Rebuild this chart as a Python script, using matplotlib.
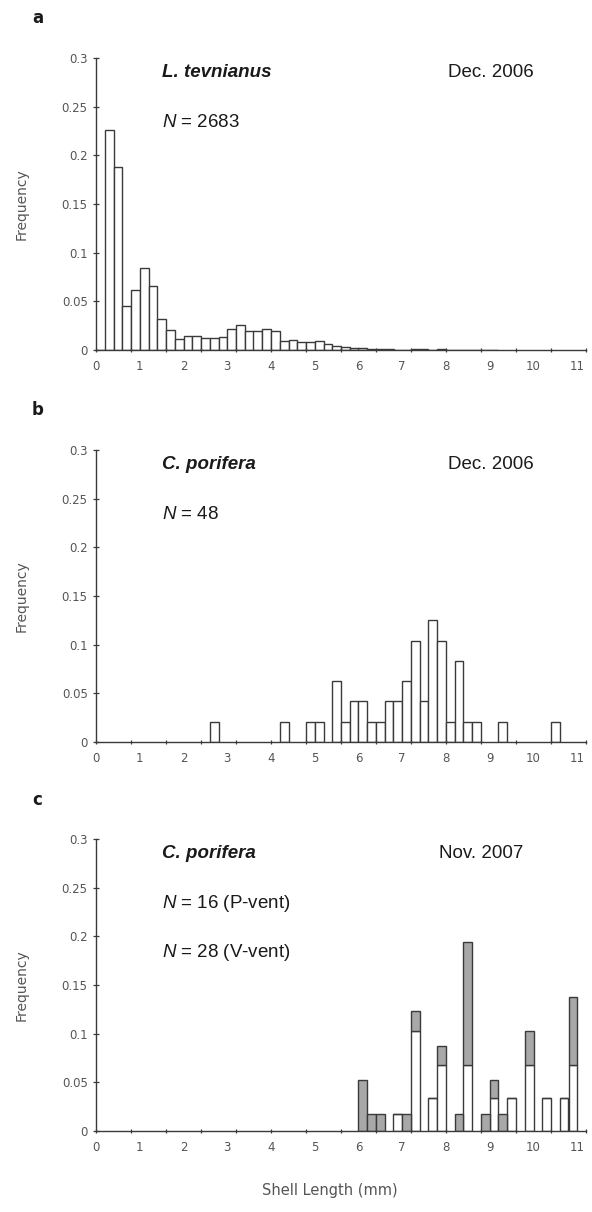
import numpy as np
import matplotlib
matplotlib.use("Agg")
import matplotlib.pyplot as plt

# --- style config ---
W, H = 592, 1212
EDGE = "#3a3a3a"
GRAY_FILL = "#a8a8a8"
TICK_COLOR = "#555555"
TEXT_COLOR = "#1a1a1a"
BIN = 0.2

# =========================
# DATA (frequency per 0.2 mm shell-length bin)
# =========================
# panel a: L. tevnianus, bins starting at 0.0, 0.2, 0.4, ...
a_freq = [0.0, 0.226, 0.188, 0.045, 0.062, 0.084, 0.066, 0.032, 0.021, 0.011,
          0.014, 0.014, 0.012, 0.012, 0.013, 0.022, 0.026, 0.020, 0.020, 0.022,
          0.020, 0.009, 0.010, 0.008, 0.008, 0.009, 0.006, 0.004, 0.003, 0.002,
          0.002, 0.001, 0.001, 0.001, 0.0005, 0.0005, 0.001, 0.001, 0.0005, 0.001,
          0.0005, 0.0005, 0.0005, 0.0, 0.0005, 0.0]
a_n = 2683

# panel b: C. porifera Dec. 2006 (counts per bin)
b_starts = [2.6, 4.2, 4.8, 5.0, 5.4, 5.6, 5.8, 6.0, 6.2, 6.4, 6.6, 6.8,
            7.0, 7.2, 7.4, 7.6, 7.8, 8.0, 8.2, 8.4, 8.6, 9.2, 10.4]
b_counts = [1, 1, 1, 1, 3, 1, 2, 2, 1, 1, 2, 2,
            3, 5, 2, 6, 5, 1, 4, 1, 1, 1, 1]
b_n = 48

# panel c: C. porifera Nov. 2007, white part and grey part stacked on top
c_starts = [6.0, 6.2, 6.4, 6.8, 7.0, 7.2, 7.6, 7.8, 8.2, 8.4,
            8.8, 9.0, 9.2, 9.4, 9.8, 10.2, 10.6, 10.8]
c_white = [0.0, 0.0, 0.0, 0.017, 0.0, 0.103, 0.034, 0.068, 0.0, 0.068,
           0.0, 0.034, 0.0, 0.034, 0.068, 0.034, 0.034, 0.068]
c_gray = [0.052, 0.017, 0.017, 0.0, 0.017, 0.020, 0.0, 0.019, 0.017, 0.126,
          0.017, 0.018, 0.017, 0.0, 0.035, 0.0, 0.0, 0.070]

x_labels = [str(i) for i in range(12)]
y_ticks = [0, 0.05, 0.1, 0.15, 0.2, 0.25, 0.3]
y_labels = ["0", "0.05", "0.1", "0.15", "0.2", "0.25", "0.3"]


def px_rect(left, top, right, bottom):
    return [left / W, 1 - bottom / H, (right - left) / W, (bottom - top) / H]


def style_axes(ax):
    ax.set_xlim(0, 11.2)
    ax.set_ylim(0, 0.3)
    for side in ["top", "right"]:
        ax.spines[side].set_visible(False)
    for side in ["left", "bottom"]:
        ax.spines[side].set_color(EDGE)
        ax.spines[side].set_linewidth(1.0)

    ax.xaxis.remove_overlapping_locs = False
    ax.set_xticks(range(12))
    ax.set_xticklabels(x_labels, fontsize=8.5, color=TICK_COLOR, family="DejaVu Sans")
    ax.set_xticks(np.arange(0, 11.21, 0.8), minor=True)
    ax.tick_params(axis="x", which="major", length=0, pad=7)
    ax.tick_params(axis="x", which="minor", length=3, width=0.9,
                   direction="inout", color=EDGE)

    ax.set_yticks(y_ticks)
    ax.set_yticklabels(y_labels, fontsize=8.5, color=TICK_COLOR, family="DejaVu Sans")
    ax.tick_params(axis="y", which="major", length=4, width=0.9,
                   direction="inout", color=EDGE, pad=4)


def label_text(ax, x, y, s, bold_italic=False):
    ax.text(x, y, s, fontsize=13.5, color=TEXT_COLOR, ha="left", va="center",
            family="Liberation Sans",
            fontweight="bold" if bold_italic else "normal",
            fontstyle="italic" if bold_italic else "normal")


plt.rcParams["mathtext.fontset"] = "custom"
plt.rcParams["mathtext.it"] = "Liberation Sans:italic"
plt.rcParams["mathtext.rm"] = "Liberation Sans"

fig = plt.figure(figsize=(W / 100, H / 100), dpi=100, facecolor="white")

ax_a = fig.add_axes(px_rect(96, 58, 586, 350))
ax_b = fig.add_axes(px_rect(96, 450, 586, 742))
ax_c = fig.add_axes(px_rect(96, 839, 586, 1131))

# --- panel a ---
a_x = np.arange(len(a_freq)) * BIN
ax_a.bar(a_x, a_freq, width=BIN, align="edge", color="white",
         edgecolor=EDGE, linewidth=1.0)
style_axes(ax_a)
label_text(ax_a, 1.52, 0.285, "L. tevnianus", bold_italic=True)
label_text(ax_a, 1.52, 0.234, r"$\it{N}$ = %d" % a_n)
label_text(ax_a, 8.05, 0.285, "Dec. 2006")

# --- panel b ---
b_freq = np.array(b_counts) / b_n
ax_b.bar(b_starts, b_freq, width=BIN, align="edge", color="white",
         edgecolor=EDGE, linewidth=1.0)
style_axes(ax_b)
label_text(ax_b, 1.52, 0.285, "C. porifera", bold_italic=True)
label_text(ax_b, 1.52, 0.234, r"$\it{N}$ = %d" % b_n)
label_text(ax_b, 8.05, 0.285, "Dec. 2006")

# --- panel c ---
ax_c.bar(c_starts, c_white, width=BIN, align="edge", color="white",
         edgecolor=EDGE, linewidth=1.0)
ax_c.bar(c_starts, c_gray, bottom=c_white, width=BIN, align="edge",
         color=GRAY_FILL, edgecolor=EDGE, linewidth=1.0)
style_axes(ax_c)
label_text(ax_c, 1.52, 0.285, "C. porifera", bold_italic=True)
label_text(ax_c, 1.52, 0.234, r"$\it{N}$ = 16 (P-vent)")
label_text(ax_c, 1.52, 0.183, r"$\it{N}$ = 28 (V-vent)")
label_text(ax_c, 7.85, 0.285, "Nov. 2007")

# --- panel letters / axis labels ---
for letter, py in [("a", 18), ("b", 410), ("c", 800)]:
    fig.text(32 / W, 1 - py / H, letter, fontsize=12, fontweight="bold",
             color=TEXT_COLOR, ha="left", va="center", family="DejaVu Sans")

for top, bottom in [(58, 350), (450, 742), (839, 1131)]:
    fig.text(22 / W, 1 - (top + bottom) / 2 / H, "Frequency", rotation=90,
             fontsize=10, color=TICK_COLOR, ha="center", va="center",
             family="DejaVu Sans")

fig.text(330 / W, 1 - 1190 / H, "Shell Length (mm)", fontsize=10.5,
         color=TICK_COLOR, ha="center", va="center", family="DejaVu Sans")

fig.savefig("out.png", dpi=100, facecolor="white")
plt.close(fig)
